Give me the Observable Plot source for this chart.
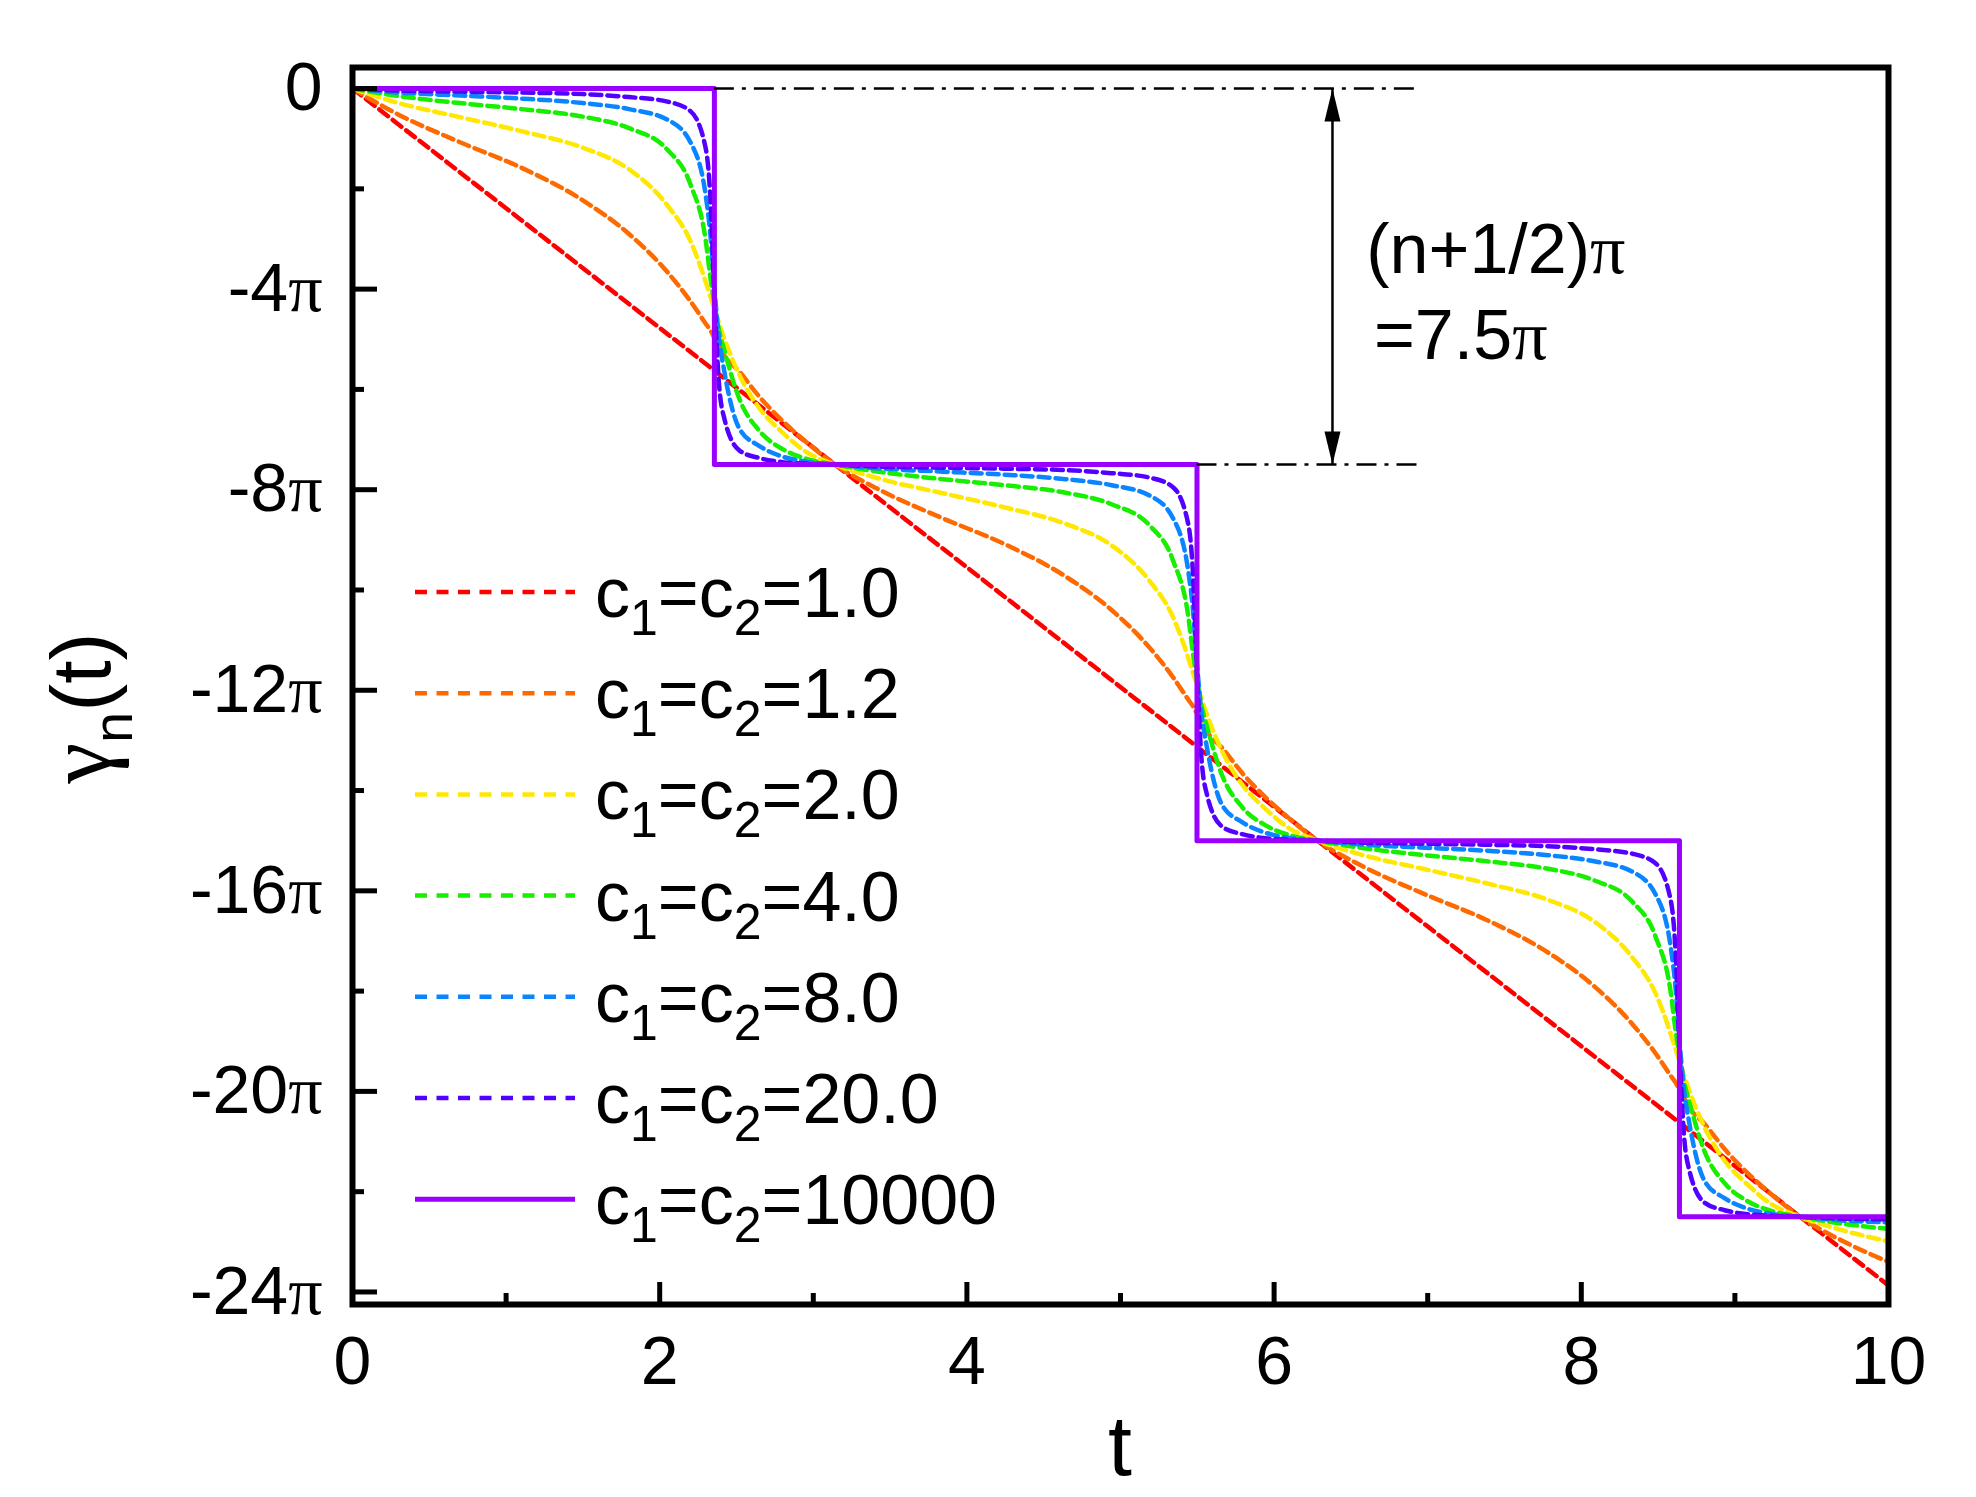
<!DOCTYPE html>
<html><head><meta charset="utf-8">
<script src="https://cdn.jsdelivr.net/npm/d3@7"></script>
<script src="https://cdn.jsdelivr.net/npm/@observablehq/plot@0.6"></script>
<style>html,body{margin:0;padding:0;background:#fff;overflow:hidden}</style>
</head><body><div id="chart"></div>
<script>
// time grid shared by the dashed curves
const tGrid = [
  0, 0.3, 0.7, 1.1, 1.5, 1.8, 2.05, 2.2, 2.3, 2.33, 2.356, 2.385, 2.42, 2.52, 2.65, 2.8, 2.95,
  3.142, 3.442, 3.842, 4.242, 4.642, 4.942, 5.192, 5.342, 5.442, 5.472, 5.498, 5.527, 5.562, 5.662, 5.792, 5.942, 6.092,
  6.283, 6.583, 6.983, 7.383, 7.783, 8.083, 8.333, 8.483, 8.583, 8.613, 8.639, 8.668, 8.703, 8.803, 8.933, 9.083, 9.233,
  9.425, 9.725, 10
];
// gamma_n(t) in units of pi
const gC1_2 = [
  0, -0.52, -1.07, -1.58, -2.23, -2.90, -3.66, -4.24, -4.69, -4.82, -4.97, -5.12, -5.32, -5.65, -6.15, -6.63, -7.04,
  -7.5, -8.02, -8.57, -9.08, -9.73, -10.40, -11.16, -11.74, -12.19, -12.32, -12.47, -12.62, -12.82, -13.15, -13.65, -14.13, -14.54,
  -15, -15.52, -16.07, -16.58, -17.23, -17.90, -18.66, -19.24, -19.69, -19.82, -19.97, -20.12, -20.32, -20.65, -21.15, -21.63, -22.04,
  -22.5, -23.02, -23.40
];
const gC2_0 = [
  0, -0.29, -0.57, -0.85, -1.18, -1.61, -2.33, -3.04, -3.86, -4.15, -4.39, -4.67, -4.98, -5.72, -6.38, -6.86, -7.24,
  -7.5, -7.79, -8.07, -8.35, -8.68, -9.11, -9.83, -10.54, -11.36, -11.65, -11.89, -12.17, -12.48, -13.22, -13.88, -14.36, -14.74,
  -15, -15.29, -15.57, -15.85, -16.18, -16.61, -17.33, -18.04, -18.86, -19.15, -19.39, -19.67, -19.98, -20.72, -21.38, -21.86, -22.24,
  -22.5, -22.79, -22.99
];
const gC4_0 = [
  0, -0.15, -0.29, -0.41, -0.56, -0.79, -1.22, -1.91, -3.04, -3.77, -4.28, -4.80, -5.21, -6.20, -6.83, -7.19, -7.38,
  -7.5, -7.65, -7.79, -7.91, -8.06, -8.29, -8.72, -9.41, -10.54, -11.27, -11.78, -12.30, -12.71, -13.70, -14.33, -14.69, -14.88,
  -15, -15.15, -15.29, -15.41, -15.56, -15.79, -16.22, -16.91, -18.04, -18.77, -19.28, -19.80, -20.21, -21.20, -21.83, -22.19, -22.38,
  -22.5, -22.65, -22.74
];
const gC8_0 = [
  0, -0.08, -0.14, -0.20, -0.29, -0.41, -0.62, -1.07, -2.14, -2.91, -3.98, -4.95, -5.63, -6.79, -7.13, -7.34, -7.44,
  -7.5, -7.58, -7.64, -7.70, -7.79, -7.91, -8.12, -8.57, -9.64, -10.41, -11.48, -12.45, -13.13, -14.29, -14.63, -14.84, -14.94,
  -15, -15.08, -15.14, -15.20, -15.29, -15.41, -15.62, -16.07, -17.14, -17.91, -18.98, -19.95, -20.63, -21.79, -22.13, -22.34, -22.44,
  -22.5, -22.58, -22.61
];
const gC20_0 = [
  0, -0.04, -0.06, -0.08, -0.11, -0.17, -0.26, -0.45, -1.20, -2.18, -4.13, -5.85, -6.57, -7.22, -7.37, -7.45, -7.48,
  -7.5, -7.54, -7.56, -7.58, -7.61, -7.67, -7.76, -7.95, -8.70, -9.68, -11.63, -13.35, -14.07, -14.72, -14.87, -14.95, -14.98,
  -15, -15.04, -15.06, -15.08, -15.11, -15.17, -15.26, -15.45, -16.20, -17.18, -19.13, -20.85, -21.57, -22.22, -22.37, -22.45, -22.48,
  -22.5, -22.54, -22.55
];
// c1=c2=1.0 (straight)
const tC1_0 = [0, 3.142, 6.283, 9.425, 10];
const gC1_0 = [0, -7.5, -15, -22.5, -23.87];
// c1=c2=10000 (staircase)
const tC10000 = [0, 2.356, 2.356, 5.498, 5.498, 8.639, 8.639, 10];
const gC10000 = [0, 0, -7.5, -7.5, -15, -15, -22.5, -22.5];

const legendValues = ["1.0", "1.2", "2.0", "4.0", "8.0", "20.0", "10000"];
const seriesColors = ["#ff0000", "#ff6a00", "#ffe800", "#18ee00", "#0a84ff", "#5200ff", "#9a00ff"];

const yMajorTicks = [0, -4, -8, -12, -16, -20, -24];
const yMinorTicks = [-2, -6, -10, -14, -18, -22];
const yTickLabels = ["0", "-4π", "-8π", "-12π", "-16π", "-20π", "-24π"];
const xMajorTicks = [0, 2, 4, 6, 8, 10];
const xMinorTicks = [1, 3, 5, 7, 9];

// annotation
const guideY = [0, -7.5];
const guideX1 = [2.356, 5.498];
const guideX2 = [6.95, 6.95];
const arrowX = [6.38];
const arrowY = [0, -7.5];
const annoText = ["(n+1/2)π", "=7.5π"];
const annoX = [6.60, 6.65];
const annoY = [-3.67, -5.39];

const rows = (ts, gs) => ts.map((t, i) => ({t, g: gs[i]}));
const dashedSets = [gC1_2, gC2_0, gC4_0, gC8_0, gC20_0];
const DASH = "11,6";
const CURVE_W = 4.5;

const headUp = {draw(ctx) { ctx.moveTo(0, 0); ctx.lineTo(-8, 33); ctx.lineTo(8, 33); ctx.closePath(); }};
const headDown = {draw(ctx) { ctx.moveTo(0, 0); ctx.lineTo(-8, -33); ctx.lineTo(8, -33); ctx.closePath(); }};

const marks = [
  Plot.line(rows(tC1_0, gC1_0), {x: "t", y: "g", stroke: seriesColors[0], strokeWidth: CURVE_W, strokeDasharray: DASH}),
  ...dashedSets.map((gs, k) => Plot.line(rows(tGrid, gs), {
    x: "t", y: "g", stroke: seriesColors[k + 1], strokeWidth: CURVE_W, strokeDasharray: DASH, curve: "monotone-x"
  })),
  Plot.line(rows(tC10000, gC10000), {x: "t", y: "g", stroke: seriesColors[6], strokeWidth: 5}),
  Plot.ruleY(guideY, {y: d => d, x1: (d, i) => guideX1[i], x2: (d, i) => guideX2[i], stroke: "black", strokeWidth: 2.5, strokeDasharray: "20,8,4,8"}),
  Plot.ruleX(arrowX, {x: d => d, y1: arrowY[0], y2: arrowY[1], stroke: "black", strokeWidth: 2.5}),
  Plot.dot([arrowY[0]], {x: () => arrowX[0], y: d => d, symbol: headUp, fill: "black", stroke: "none"}),
  Plot.dot([arrowY[1]], {x: () => arrowX[0], y: d => d, symbol: headDown, fill: "black", stroke: "none"}),
  Plot.text(annoText, {x: (d, i) => annoX[i], y: (d, i) => annoY[i], text: d => d, textAnchor: "start", lineAnchor: "bottom", fontSize: 70, fill: "black"}),
  Plot.axisY({ticks: yMajorTicks, tickSize: 0, tickPadding: 30, tickFormat: d => yTickLabels[yMajorTicks.indexOf(d)], fontSize: 68, label: null, fill: "black"}),
  Plot.axisY({ticks: yMajorTicks, tickSize: -25, text: null, strokeWidth: 5, label: null}),
  Plot.axisY({ticks: yMinorTicks, tickSize: -12, text: null, strokeWidth: 5, label: null}),
  Plot.axisX({ticks: xMajorTicks, tickSize: 0, tickPadding: 31, fontSize: 68, label: null, fill: "black"}),
  Plot.axisX({ticks: xMajorTicks, tickSize: -22, text: null, strokeWidth: 5, label: null}),
  Plot.axisX({ticks: xMinorTicks, tickSize: -11, text: null, strokeWidth: 5, label: null}),
  Plot.frame({stroke: "black", strokeWidth: 6})
];

const chart = Plot.plot({
  width: 1976, height: 1497,
  marginLeft: 352, marginRight: 88, marginTop: 67, marginBottom: 193,
  x: {domain: [0, 10]},
  y: {domain: [-24.25, 0.42]},
  style: {fontFamily: "'Liberation Sans', Arial, sans-serif", background: "white", color: "black", overflow: "visible"},
  marks
});
chart.style.display = "block";
document.getElementById("chart").appendChild(chart);

const svg = d3.select(chart);
const NS = "http://www.w3.org/2000/svg";

// render π with a serif glyph like the original
chart.querySelectorAll("text").forEach(el => {
  if (el.children.length === 0 && el.textContent.includes("π")) {
    const parts = el.textContent.split("π");
    el.textContent = "";
    parts.forEach((p, i) => {
      if (p) { const s = document.createElementNS(NS, "tspan"); s.textContent = p; el.appendChild(s); }
      if (i < parts.length - 1) {
        const s = document.createElementNS(NS, "tspan");
        s.setAttribute("font-family", "'Liberation Serif', 'DejaVu Serif', serif");
        s.textContent = "π"; el.appendChild(s);
      }
    });
  }
});

// legend
const lg = svg.append("g").attr("font-family", "'Liberation Sans', Arial, sans-serif")
  .attr("fill", "black").attr("text-anchor", "start");
legendValues.forEach((v, i) => {
  const y = 592 + i * 101.2;
  lg.append("line").attr("x1", 415).attr("x2", 575).attr("y1", y).attr("y2", y)
    .attr("stroke", seriesColors[i]).attr("stroke-width", i === 6 ? 5 : 4.5)
    .attr("stroke-dasharray", i === 6 ? null : "12,9.5");
  const tx = lg.append("text").attr("x", 595).attr("y", y + 25).attr("font-size", 70).attr("text-anchor", "start");
  tx.append("tspan").text("c");
  tx.append("tspan").attr("font-size", 50).attr("dy", 18).text("1");
  tx.append("tspan").attr("dy", -18).text("=c");
  tx.append("tspan").attr("font-size", 50).attr("dy", 18).text("2");
  tx.append("tspan").attr("dy", -18).text("=" + v);
});

// axis titles
const yl = svg.append("text").attr("transform", "translate(110,708) rotate(-90)")
  .attr("text-anchor", "middle").attr("font-size", 84).attr("fill", "black")
  .attr("font-family", "'Liberation Sans', Arial, sans-serif");
yl.append("tspan").attr("font-family", "'Liberation Serif', 'DejaVu Serif', serif").attr("font-size", 92).text("γ");
yl.append("tspan").attr("font-size", 56).attr("dy", 22).text("n");
yl.append("tspan").attr("dy", -22).text("(t)");

svg.append("text").attr("x", 1120).attr("y", 1475).attr("text-anchor", "middle")
  .attr("font-size", 86).attr("fill", "black")
  .attr("font-family", "'Liberation Sans', Arial, sans-serif").text("t");
</script>
</body></html>
